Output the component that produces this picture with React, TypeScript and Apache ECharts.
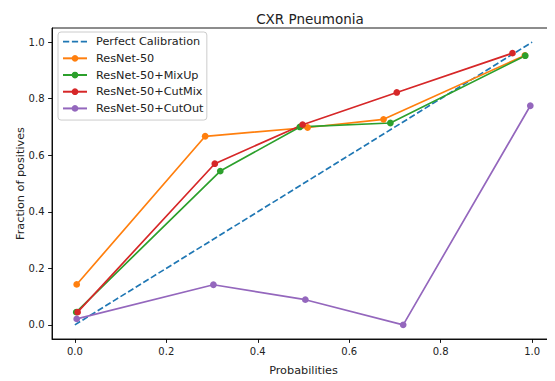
import React, { useEffect, useRef } from "react";
import * as echarts from "echarts";

const perfectX = [0, 1];
const perfectY = [0, 1];
const resnetX = [0.004, 0.285, 0.509, 0.675, 0.984];
const resnetY = [0.143, 0.667, 0.698, 0.727, 0.953];
const mixupX = [0.003, 0.318, 0.492, 0.69, 0.985];
const mixupY = [0.045, 0.544, 0.7, 0.714, 0.952];
const cutmixX = [0.006, 0.306, 0.498, 0.704, 0.957];
const cutmixY = [0.045, 0.57, 0.708, 0.822, 0.961];
const cutoutX = [0.004, 0.303, 0.504, 0.718, 0.996];
const cutoutY = [0.021, 0.142, 0.089, 0.0, 0.775];
const tickValues = [0, 0.2, 0.4, 0.6, 0.8, 1.0];

const seriesNames = [
  "Perfect Calibration",
  "ResNet-50",
  "ResNet-50+MixUp",
  "ResNet-50+CutMix",
  "ResNet-50+CutOut",
];
const colors = ["#1f77b4", "#ff7f0e", "#2ca02c", "#d62728", "#9467bd"];

const zip = (xs: number[], ys: number[]) => xs.map((x, i) => [x, ys[i]]);

const FONT = "DejaVu Sans";
const DASH_ICON =
  "path://M0,0h5.55v1.5h-5.55z M7.95,0h5.55v1.5h-5.55z M15.9,0h5.55v1.5h-5.55z";

export default function App() {
  const ref = useRef<HTMLDivElement>(null);
  useEffect(() => {
    if (!ref.current) return;
    const chart = echarts.init(ref.current, undefined, { renderer: "svg" });
    const axisCommon = (name: string, gap: number) => ({
      type: "value",
      min: -0.05,
      max: 1.05,
      name,
      nameLocation: "middle",
      nameGap: gap,
      nameMoveOverlap: false,
      nameTextStyle: { fontFamily: FONT, fontSize: 11.25, color: "#222" },
      axisLine: { show: true, onZero: false, lineStyle: { color: "#000", width: 0.9 } },
      axisTick: {
        show: true,
        customValues: tickValues,
        length: 3.9,
        lineStyle: { color: "#000", width: 0.9 },
      },
      axisLabel: {
        customValues: tickValues,
        formatter: (v: number) => v.toFixed(1),
        fontFamily: FONT,
        fontSize: 10,
        color: "#222",
        margin: 7.5,
      },
      splitLine: { show: false },
    });
    const dataSets = [
      zip(perfectX, perfectY),
      zip(resnetX, resnetY),
      zip(mixupX, mixupY),
      zip(cutmixX, cutmixY),
      zip(cutoutX, cutoutY),
    ];
    chart.setOption({
      animation: false,
      title: {
        text: "CXR Pneumonia",
        left: 305,
        top: 7,
        textAlign: "center",
        textStyle: { fontFamily: FONT, fontSize: 13.5, fontWeight: "normal", color: "#222" },
      },
      grid: {
        left: 52,
        top: 28,
        width: 505.5,
        height: 313.3,
        show: true,
        borderColor: "#000",
        borderWidth: 0.9,
        containLabel: false,
      },
      xAxis: axisCommon("Probabilities", 26),
      yAxis: axisCommon("Fraction of positives", 26),
      legend: {
        orient: "vertical",
        left: 58,
        top: 32,
        padding: [4, 3.4, 6, 4],
        itemWidth: 24,
        itemHeight: 8.4,
        itemGap: 5.45,
        borderColor: "#cccccc",
        borderWidth: 1,
        borderRadius: 3,
        backgroundColor: "rgba(255,255,255,0.8)",
        textStyle: {
          fontFamily: FONT,
          fontSize: 11.25,
          lineHeight: 11.25,
          color: "#222",
          padding: [0, 0, 0, 4],
        },
        data: seriesNames.map((n, i) => (i === 0 ? { name: n, icon: DASH_ICON } : { name: n })),
      },
      series: dataSets.map((d, i) => ({
        type: "line",
        name: seriesNames[i],
        data: d,
        color: colors[i],
        symbol: i === 0 ? "none" : "circle",
        showSymbol: i !== 0,
        symbolSize: 6.75,
        lineStyle: {
          width: 1.69,
          color: colors[i],
          type: i === 0 ? [6.24, 2.7] : "solid",
        },
        itemStyle: { color: colors[i] },
      })),
    });
    return () => chart.dispose();
  }, []);
  return <div ref={ref} style={{ width: 555, height: 381, marginLeft: -8, marginTop: -8 }} />;
}
